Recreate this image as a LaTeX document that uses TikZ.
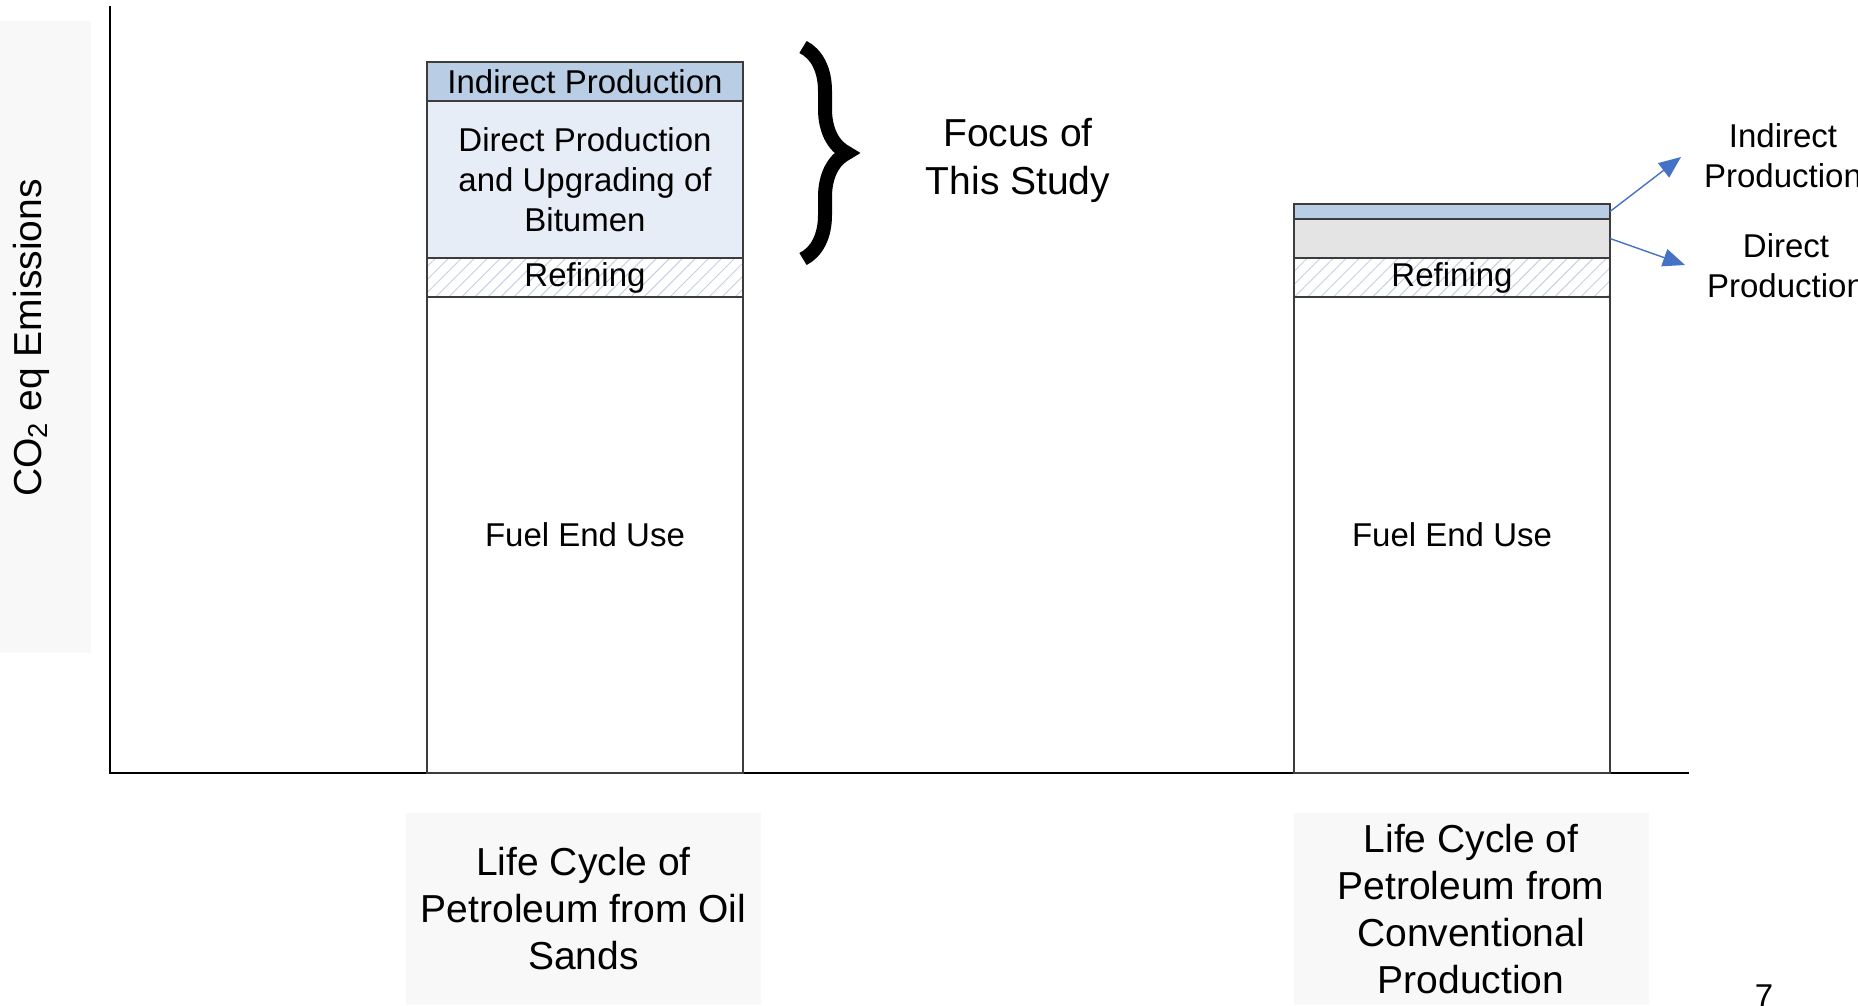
\documentclass[tikz,border=0pt]{standalone}
\usepackage{fontspec}
\setmainfont{Liberation Sans}
\usetikzlibrary{arrows.meta,decorations.pathreplacing,patterns.meta,positioning}
\definecolor{indfill}{RGB}{185,205,229}
\definecolor{dirfill}{RGB}{230,237,247}
\definecolor{convfill}{RGB}{228,228,228}
\definecolor{boxfill}{RGB}{248,248,248}
\definecolor{hatchline}{RGB}{196,208,226}
\definecolor{arrowblue}{RGB}{68,114,196}
\definecolor{edgegrey}{RGB}{60,60,60}

\begin{document}
\begin{tikzpicture}[x=0.5pt,y=0.5pt,yscale=-1,
  seg/.style={draw=edgegrey,line width=0.6pt,inner sep=0pt,outer sep=0pt,minimum width=158pt,align=center,font=\fontsize{16.5}{20}\selectfont},
  refseg/.style={seg,minimum height=19.5pt,pattern={Lines[angle=45,distance=4.6pt,line width=0.5pt]},pattern color=hatchline},
  catbox/.style={fill=boxfill,inner sep=0pt,minimum width=177.5pt,minimum height=96pt,align=center,font=\fontsize{19.5}{23.5}\selectfont},
  sidelbl/.style={align=center,inner sep=0pt,font=\fontsize{16.5}{20}\selectfont},
  conn/.style={draw=arrowblue,line width=0.7pt,-{Triangle[length=11pt,width=9pt]}}]
\useasboundingbox (0,0) rectangle (1858,1006);

%Axis title
\fill [boxfill] (0,21) rectangle (91,653);
\node [rotate=90,inner sep=0pt,font=\fontsize{19.5}{23.5}\selectfont] (ytitle) at (31,338) {CO\textsubscript{2} eq Emissions};

%Axes
\draw [line width=0.6pt] (110,6) -- (110,773) -- (1689,773);

%Oil sands bar
\node [seg,anchor=north west,fill=indfill,minimum height=19.5pt] (ind1) at (427,62) {Indirect Production};
\node [seg,fill=dirfill,minimum height=78.5pt,below=0pt of ind1] (dir1) {Direct Production\\and Upgrading of\\Bitumen};
\node [refseg,below=0pt of dir1] (ref1) {Refining};
\node [seg,fill=white,minimum height=238pt,below=0pt of ref1] (fuel1) {Fuel End Use};

%Conventional bar
\node [seg,anchor=north west,fill=indfill,minimum height=7.5pt] (ind2) at (1294,204) {};
\node [seg,fill=convfill,minimum height=19.5pt,below=0pt of ind2] (dir2) {};
\node [refseg,below=0pt of dir2] (ref2) {Refining};
\node [seg,fill=white,minimum height=238pt,below=0pt of ref2] (fuel2) {Fuel End Use};

%Brace
\draw [decorate,decoration={brace,amplitude=22pt},line width=7pt] (803,47) -- (803,259);

% Text Node
\node [align=center,inner sep=0pt,font=\fontsize{19.5}{24}\selectfont] (focus) at (1018,160) {Focus of\\This Study};
% Text Node
\node [sidelbl] (indlbl) at (1783,156) {Indirect\\Production};
% Text Node
\node [sidelbl] (dirlbl) at (1786,266) {Direct\\Production};

%Arrows
\coordinate (indtip) at (1681,157);
\coordinate (dirtip) at (1685,265);
\draw [conn] (ind2.east) -- (indtip);
\draw [conn] (dir2.east) -- (dirtip);

%Category labels
\node [catbox] (oilsands) at (583.5,909) {Life Cycle of\\Petroleum from Oil\\Sands};
\node [catbox] (conventional) at (1471,909) {Life Cycle of\\Petroleum from\\Conventional\\Production};

% Text Node
\node [anchor=base,inner sep=0pt,font=\fontsize{16.5}{20}\selectfont] (pagenum) at (1764,1007) {7};

\end{tikzpicture}
\end{document}
